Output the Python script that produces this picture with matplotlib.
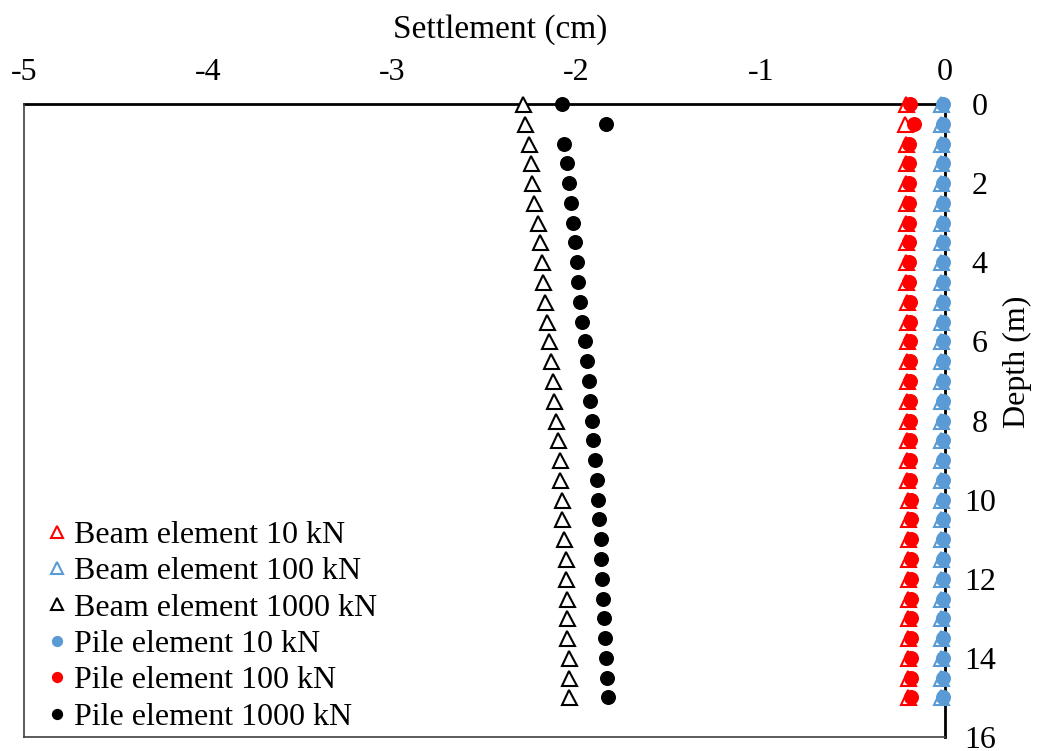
import matplotlib.pyplot as plt

plt.rcParams['font.family'] = ['Liberation Serif', 'DejaVu Serif']
plt.rcParams['axes.unicode_minus'] = False

# depth of each output point (m)
depth = [0, 0.5, 1, 1.5, 2, 2.5, 3, 3.5, 4, 4.5, 5, 5.5, 6, 6.5, 7, 7.5,
         8, 8.5, 9, 9.5, 10, 10.5, 11, 11.5, 12, 12.5, 13, 13.5, 14, 14.5, 15]

# settlement (cm)
beam_10 = [-0.21, -0.215, -0.21, -0.21, -0.21, -0.21, -0.21, -0.21, -0.21, -0.21,
           -0.205, -0.205, -0.205, -0.205, -0.205, -0.205, -0.205, -0.205, -0.205, -0.205,
           -0.2, -0.2, -0.2, -0.2, -0.2, -0.2, -0.2, -0.2, -0.2, -0.2, -0.2]
beam_100 = [-0.02] * 31
beam_1000 = [-2.29, -2.28, -2.26, -2.25, -2.24, -2.23, -2.21, -2.20, -2.19, -2.18,
             -2.17, -2.16, -2.15, -2.14, -2.13, -2.12, -2.11, -2.10, -2.09, -2.09,
             -2.08, -2.08, -2.07, -2.06, -2.06, -2.05, -2.05, -2.05, -2.04, -2.04, -2.04]
pile_10 = [-0.013] * 31
pile_100 = [-0.19, -0.17, -0.195, -0.195, -0.195, -0.195, -0.194, -0.194, -0.193, -0.193,
            -0.192, -0.192, -0.191, -0.191, -0.19, -0.19, -0.189, -0.189, -0.188, -0.188,
            -0.187, -0.187, -0.186, -0.186, -0.185, -0.185, -0.184, -0.184, -0.183, -0.182, -0.182]
pile_1000 = [-2.08, -1.84, -2.07, -2.05, -2.04, -2.03, -2.02, -2.01, -2.00, -1.99,
             -1.98, -1.97, -1.955, -1.945, -1.935, -1.925, -1.915, -1.91, -1.90, -1.89,
             -1.885, -1.88, -1.87, -1.865, -1.86, -1.855, -1.85, -1.845, -1.84, -1.835, -1.83]

blue = '#5B9BD5'
red = '#FF0000'
fs = 23

fig = plt.figure(figsize=(10.39, 7.51), dpi=100)
ax = fig.add_axes([24 / 1039, 1 - 737 / 751, (945 - 24) / 1039, (737 - 104) / 751])

ms = 10.8
ax.plot(beam_10, depth, ls='none', marker='^', ms=ms, mfc='white', mec=red, mew=1.5, clip_on=False, label='Beam element 10 kN')
ax.plot(beam_100, depth, ls='none', marker='^', ms=ms, mfc='white', mec=blue, mew=1.5, clip_on=False, label='Beam element 100 kN')
ax.plot(beam_1000, depth, ls='none', marker='^', ms=ms, mfc='white', mec='black', mew=1.5, clip_on=False, label='Beam element 1000 kN')
ax.plot(pile_10, depth, ls='none', marker='o', ms=ms, mfc=blue, mec=blue, mew=0, clip_on=False, label='Pile element 10 kN')
ax.plot(pile_100, depth, ls='none', marker='o', ms=ms, mfc=red, mec=red, mew=0, clip_on=False, label='Pile element 100 kN')
ax.plot(pile_1000, depth, ls='none', marker='o', ms=ms, mfc='black', mec='black', mew=0, clip_on=False, label='Pile element 1000 kN')

ax.set_xlim(-5, 0)
ax.set_ylim(16, 0)
ax.set_xticks([-5, -4, -3, -2, -1, 0])
ax.set_yticks([0, 2, 4, 6, 8, 10, 12, 14, 16])
ax.xaxis.tick_top()
ax.yaxis.tick_right()
ax.xaxis.set_label_position('top')
ax.yaxis.set_label_position('right')
ax.tick_params(axis='x', length=0, labelsize=fs, pad=12)
ax.tick_params(axis='y', length=0, labelsize=fs, pad=25)
for t in ax.get_yticklabels():
    t.set_horizontalalignment('center')
ax.set_xlabel('Settlement (cm)', fontsize=24)
ax.xaxis.set_label_coords(0.517, 1.105)
ax.set_ylabel('Depth (m)', fontsize=fs)
ax.yaxis.set_label_coords(1.063, 0.592)

for s in ['top', 'right']:
    ax.spines[s].set_linewidth(2)
    ax.spines[s].set_zorder(1)
for s in ['left', 'bottom']:
    ax.spines[s].set_linewidth(1.2)
    ax.spines[s].set_color('#404040')

ax.legend(loc='lower left', frameon=False, fontsize=fs, markerscale=0.75,
          handlelength=0.5, handletextpad=0.3, labelspacing=0.22,
          borderaxespad=0, bbox_to_anchor=(0.013, -0.012))

fig.savefig('out.png', dpi=100)
